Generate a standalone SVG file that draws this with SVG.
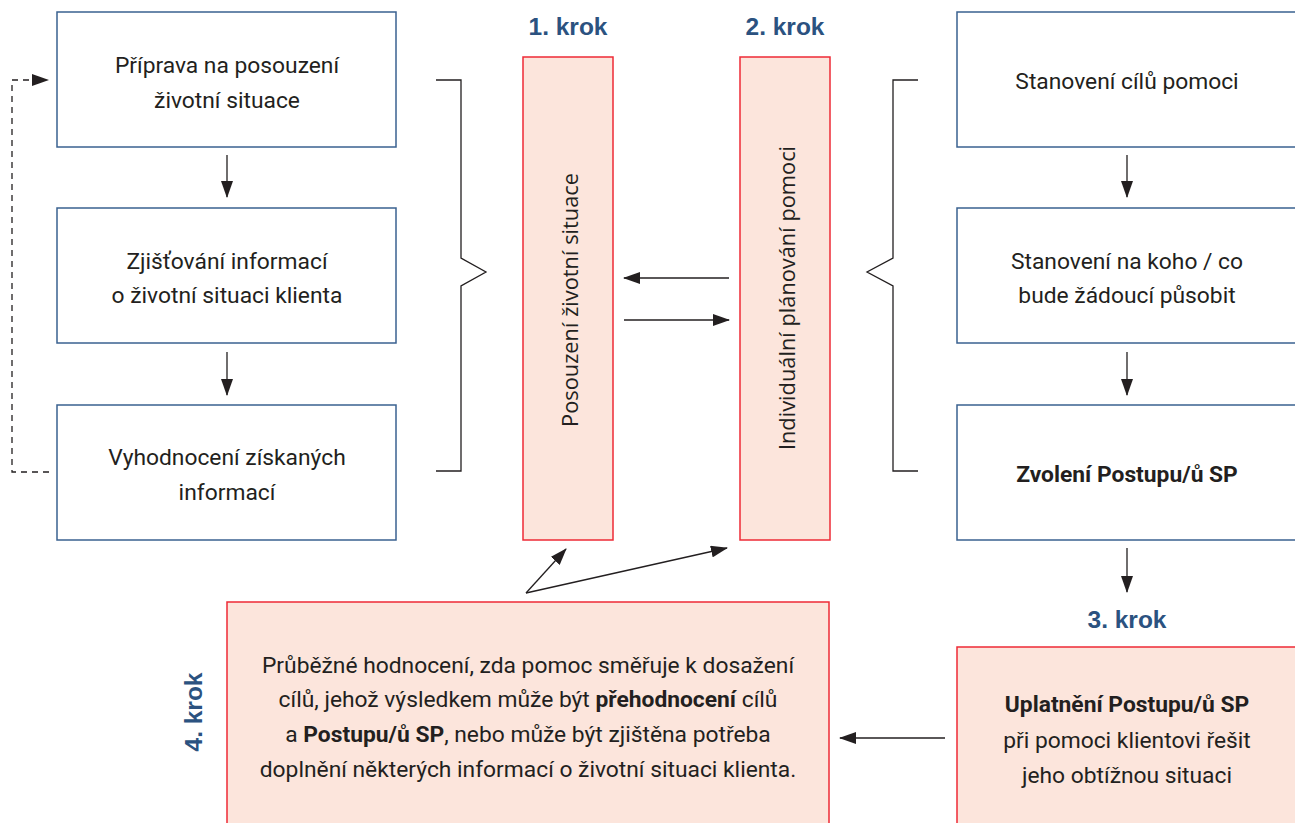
<svg xmlns="http://www.w3.org/2000/svg" width="1295" height="823" viewBox="0 0 1295 823">
<defs>
<style>
.t{font-family:Roboto,"Liberation Sans",sans-serif;font-size:22.8px;fill:#231f20;text-anchor:middle}
.v{font-family:"Open Sans","Liberation Sans",sans-serif;font-size:21.8px;fill:#231f20;text-anchor:middle}
.b{font-weight:bold}
.k{font-family:"Liberation Sans",sans-serif;font-size:24.5px;font-weight:bold;fill:#2b5280;text-anchor:middle}
.bx{fill:#fff;stroke:#3a6190;stroke-width:1.5}
.rb{fill:#fce5dc;stroke:#ee2a36;stroke-width:1.5}
.ln{fill:none;stroke:#231f20;stroke-width:1.3}
.ds{fill:none;stroke:#231f20;stroke-width:1.3;stroke-dasharray:6,5}
</style>
<marker id="ah2" markerWidth="17" markerHeight="12" refX="16" refY="6" orient="auto" markerUnits="userSpaceOnUse" viewBox="0 0 17 12">
<path d="M0,0 L17,6 L0,12 Z" fill="#231f20"/>
</marker>
</defs>
<rect width="1295" height="823" fill="#fff"/>

<g id="n1"><rect class="bx" x="57" y="12" width="339" height="135"/>
<text class="t" x="227" y="73">Příprava na posouzení</text><text class="t" x="227" y="108">životní situace</text></g>
<g id="n2"><rect class="bx" x="57" y="208" width="339" height="135"/>
<text class="t" x="227" y="269">Zjišťování informací</text><text class="t" x="227" y="303">o životní situaci klienta</text></g>
<g id="n3"><rect class="bx" x="57" y="405" width="339" height="135"/>
<text class="t" x="227" y="465">Vyhodnocení získaných</text><text class="t" x="227" y="500">informací</text></g>

<g id="k1"><text class="k" x="568" y="35">1. krok</text></g>
<g id="k2"><text class="k" x="785" y="35">2. krok</text></g>
<g id="k3"><text class="k" x="1127" y="628">3. krok</text></g>
<g id="k4"><text class="k" transform="translate(202,712) rotate(-90)">4. krok</text></g>

<g id="r1"><rect class="rb" x="523" y="57" width="90" height="483"/>
<text class="v" transform="translate(578,300) rotate(-90)">Posouzení životní situace</text></g>
<g id="r2"><rect class="rb" x="740" y="57" width="90" height="483"/>
<text class="v" transform="translate(795,298) rotate(-90)">Individuální plánování pomoci</text></g>

<g id="m1"><rect class="bx" x="957" y="12" width="345" height="135"/>
<text class="t" x="1127" y="89">Stanovení cílů pomoci</text></g>
<g id="m2"><rect class="bx" x="957" y="208" width="345" height="135"/>
<text class="t" x="1127" y="269">Stanovení na koho / co</text><text class="t" x="1127" y="303">bude žádoucí působit</text></g>
<g id="m3"><rect class="bx" x="957" y="405" width="345" height="135"/>
<text class="t b" x="1127" y="482">Zvolení Postupu/ů SP</text></g>

<g id="s3"><rect class="rb" x="957" y="647" width="345" height="190"/>
<text class="t" x="1127" y="712"><tspan class="b">Uplatnění Postupu/ů SP</tspan></text>
<text class="t" x="1127" y="748">při pomoci klientovi řešit</text>
<text class="t" x="1127" y="783">jeho obtížnou situaci</text></g>

<g id="s4"><rect class="rb" x="227" y="602" width="602" height="240"/>
<text class="t" x="528" y="673">Průběžné hodnocení, zda pomoc směřuje k dosažení</text>
<text class="t" x="528" y="707">cílů, jehož výsledkem může být <tspan class="b">přehodnocení</tspan> cílů</text>
<text class="t" x="528" y="742">a <tspan class="b">Postupu/ů SP</tspan>, nebo může být zjištěna potřeba</text>
<text class="t" x="528" y="777">doplnění některých informací o životní situaci klienta.</text></g>

<g id="connectors">
<line class="ln" x1="227" y1="155" x2="227" y2="197" marker-end="url(#ah2)"/>
<line class="ln" x1="227" y1="352" x2="227" y2="395" marker-end="url(#ah2)"/>
<line class="ln" x1="1127" y1="155" x2="1127" y2="197" marker-end="url(#ah2)"/>
<line class="ln" x1="1127" y1="352" x2="1127" y2="395" marker-end="url(#ah2)"/>
<line class="ln" x1="1127" y1="548" x2="1127" y2="592" marker-end="url(#ah2)"/>
<polyline class="ds" points="49,472 12,472 12,80 34,80"/>
<path d="M32,74 L49,80 L32,86 Z" fill="#231f20"/>
<polyline class="ln" points="436,80 461,80 461,258 486,272 461,286 461,471 436,471"/>
<polyline class="ln" points="918,80 893,80 893,258 867,272 893,286 893,471 918,471"/>
<line class="ln" x1="729" y1="278" x2="624" y2="278" marker-end="url(#ah2)"/>
<line class="ln" x1="624" y1="320" x2="729" y2="320" marker-end="url(#ah2)"/>
<line class="ln" x1="945" y1="738" x2="840" y2="738" marker-end="url(#ah2)"/>
<line class="ln" x1="526" y1="593" x2="566" y2="549" marker-end="url(#ah2)"/>
<line class="ln" x1="526" y1="593" x2="727" y2="548" marker-end="url(#ah2)"/>
</g>
</svg>
